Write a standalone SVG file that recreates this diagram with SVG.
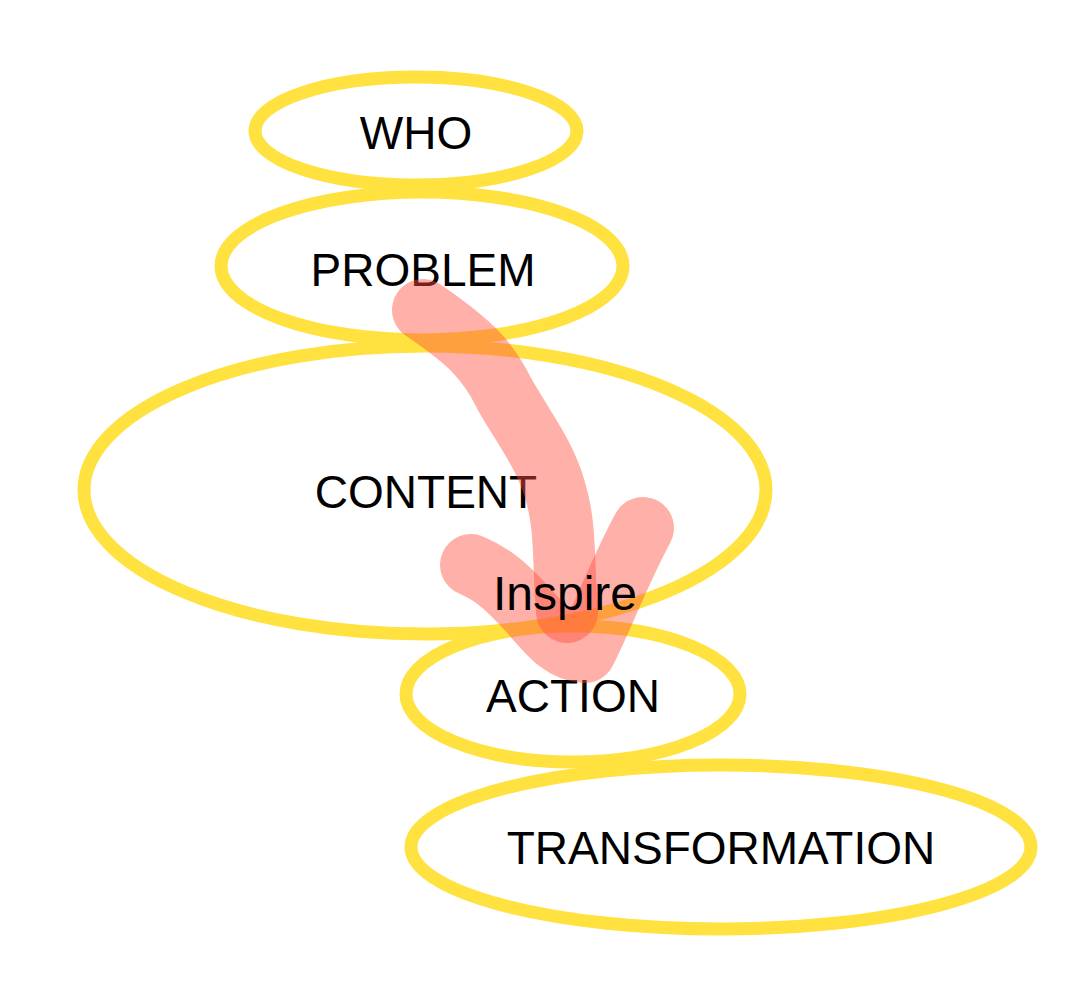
<svg xmlns="http://www.w3.org/2000/svg" width="1068" height="986" viewBox="0 0 1068 986">
<style>
.node ellipse{fill:none;stroke:#FFE240;stroke-width:13}
text{font-family:"Liberation Sans",Arial,sans-serif;font-size:46px;fill:#000;text-anchor:middle}
.stroke{fill:none;stroke:rgb(255,80,62);stroke-opacity:0.45;stroke-width:62;stroke-linecap:round;stroke-linejoin:round}
</style>
<rect width="1068" height="986" fill="#fff"/>
<g id="who" class="node"><ellipse cx="416" cy="131" rx="161" ry="54"/></g>
<g id="problem" class="node"><ellipse cx="422" cy="266" rx="201" ry="74"/></g>
<g id="content" class="node"><ellipse cx="425" cy="490" rx="341" ry="144"/></g>
<g id="action" class="node"><ellipse cx="573" cy="694" rx="167" ry="68"/></g>
<g id="transformation" class="node"><ellipse cx="721" cy="847" rx="310" ry="82"/></g>
<g id="labels">
<text x="416" y="149">WHO</text>
<text x="423" y="286">PROBLEM</text>
<text x="426" y="508">CONTENT</text>
<text x="573" y="712">ACTION</text>
<text x="721" y="864">TRANSFORMATION</text>
</g>
<g id="connectors">
<path class="stroke" d="M423,310 C470,342 488,360 505,395 C525,430 545,455 555,490 C566,525 563,560 567,612"/>
<path class="stroke" d="M471,565 C495,575 510,590 530,612 C548,632 560,650 585,652 C605,612 620,570 643,528"/>
</g>
<g id="inspire"><text x="565" y="610" style="font-size:48px">Inspire</text></g>
</svg>
